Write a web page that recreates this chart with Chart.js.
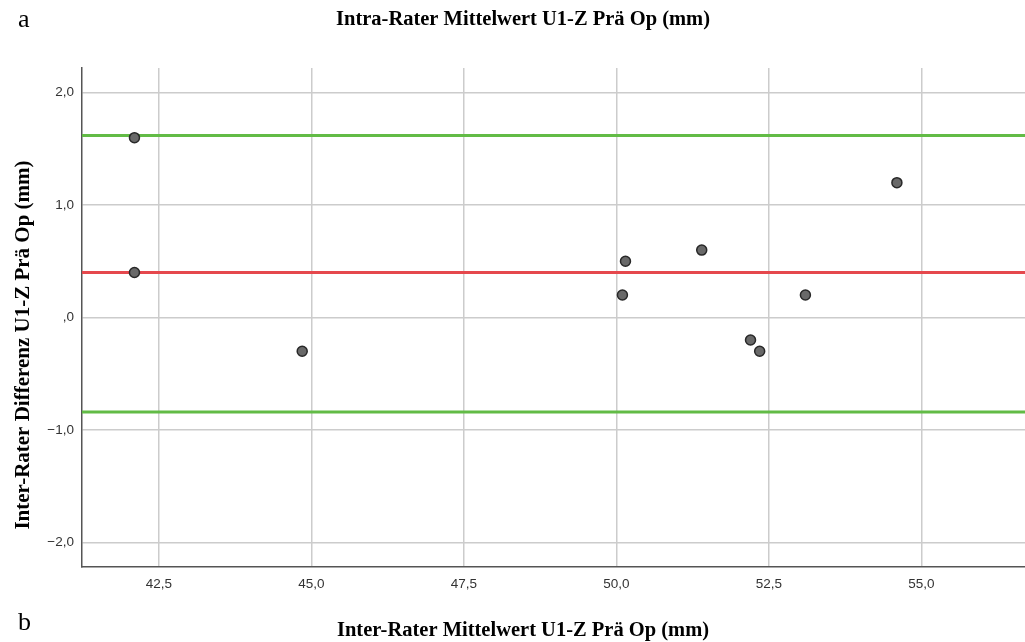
<!DOCTYPE html>
<html>
<head>
<meta charset="utf-8">
<script src="https://cdn.jsdelivr.net/npm/chart.js@4"></script>
<style>
  html, body { margin: 0; padding: 0; background: #fff; overflow: hidden; }
  canvas { display: block; }
</style>
</head>
<body>
<canvas id="baChart" width="1025" height="642"></canvas>
<script>
// Bland-Altman Daten
const mittelwerte = [42.1, 42.1, 44.85, 50.1, 50.15, 51.4, 52.2, 52.35, 53.1, 54.6];
const differenzen = [1.6, 0.4, -0.3, 0.2, 0.5, 0.6, -0.2, -0.3, 0.2, 1.2];
const mittlereDifferenz = 0.40;
const obereGrenze = 1.62;
const untereGrenze = -0.84;
const xTicks = [42.5, 45.0, 47.5, 50.0, 52.5, 55.0];
const yTicks = [-2.0, -1.0, 0.0, 1.0, 2.0];
const xBereich = [41.24, 56.70];
const yBereich = [-2.22, 2.22];

const titelOben = 'Intra-Rater Mittelwert U1-Z Prä Op (mm)';
const titelUnten = 'Inter-Rater Mittelwert U1-Z Prä Op (mm)';
const yTitel = 'Inter-Rater Differenz U1-Z Prä Op (mm)';

// SPSS-Stil: Komma, ",0" für null
function fmt(v) {
    if (Math.abs(v) < 1e-9) return ',0';
    return v.toFixed(1).replace('.', ',').replace('-', '\u2212');
}

function horizontale(y) {
    return [{ x: xBereich[0], y: y }, { x: xBereich[1], y: y }];
}

// Texte ausserhalb der Achsen
const beschriftung = {
    id: 'beschriftung',
    afterDraw(chart) {
        const c = chart.ctx;
        c.save();
        c.fillStyle = '#000';
        c.textBaseline = 'alphabetic';
        c.textAlign = 'left';
        c.font = '26px "Liberation Serif"';
        c.fillText('a', 18, 27);
        c.fillText('b', 18, 630);
        c.font = 'bold 20.5px "Liberation Serif"';
        c.textAlign = 'center';
        c.fillText(titelOben, 523, 25);
        c.fillText(titelUnten, 523, 636);
        c.font = 'bold 21px "Liberation Serif"';
        c.translate(29, 345);
        c.rotate(-Math.PI / 2);
        c.fillText(yTitel, 0, 0);
        c.restore();
    }
};

const gitter = { color: 'rgb(204,204,204)', lineWidth: 1.5, drawTicks: false };
const achse = { color: 'rgb(85,85,85)', width: 1.5 };
const tickFont = { family: '"Liberation Sans"', size: 13.5 };

const ctx = document.getElementById('baChart').getContext('2d');
new Chart(ctx, {
    type: 'scatter',
    data: {
        datasets: [
            {
                data: mittelwerte.map((m, i) => ({ x: m, y: differenzen[i] })),
                pointRadius: 5,
                pointBackgroundColor: 'rgb(105,105,105)',
                pointBorderColor: 'rgb(40,40,40)',
                pointBorderWidth: 1.5,
                order: 0
            },
            {
                data: horizontale(obereGrenze),
                showLine: true,
                borderColor: 'rgb(98,187,70)',
                borderWidth: 3,
                pointRadius: 0,
                order: 1
            },
            {
                data: horizontale(mittlereDifferenz),
                showLine: true,
                borderColor: 'rgb(229,72,77)',
                borderWidth: 3,
                pointRadius: 0,
                order: 1
            },
            {
                data: horizontale(untereGrenze),
                showLine: true,
                borderColor: 'rgb(98,187,70)',
                borderWidth: 3,
                pointRadius: 0,
                order: 1
            }
        ]
    },
    options: {
        responsive: false,
        animation: false,
        devicePixelRatio: 1,
        layout: { autoPadding: false, padding: { top: 68, right: 0, bottom: 0, left: 0 } },
        plugins: { legend: { display: false }, tooltip: { enabled: false } },
        scales: {
            x: {
                type: 'linear',
                min: xBereich[0],
                max: xBereich[1],
                afterBuildTicks: s => { s.ticks = xTicks.map(v => ({ value: v })); },
                afterFit: s => { s.height = 75; s.paddingLeft = 0; s.paddingRight = 0; },
                ticks: { callback: v => fmt(v), font: tickFont, color: '#333', padding: 9, maxRotation: 0 },
                grid: gitter,
                border: achse
            },
            y: {
                type: 'linear',
                min: yBereich[0],
                max: yBereich[1],
                afterBuildTicks: s => { s.ticks = yTicks.map(v => ({ value: v })); },
                afterFit: s => { s.width = 82; s.paddingTop = 0; s.paddingBottom = 0; },
                ticks: { callback: v => fmt(v), font: tickFont, color: '#333', padding: 8 },
                grid: gitter,
                border: achse
            }
        }
    },
    plugins: [beschriftung]
});
</script>
</body>
</html>
